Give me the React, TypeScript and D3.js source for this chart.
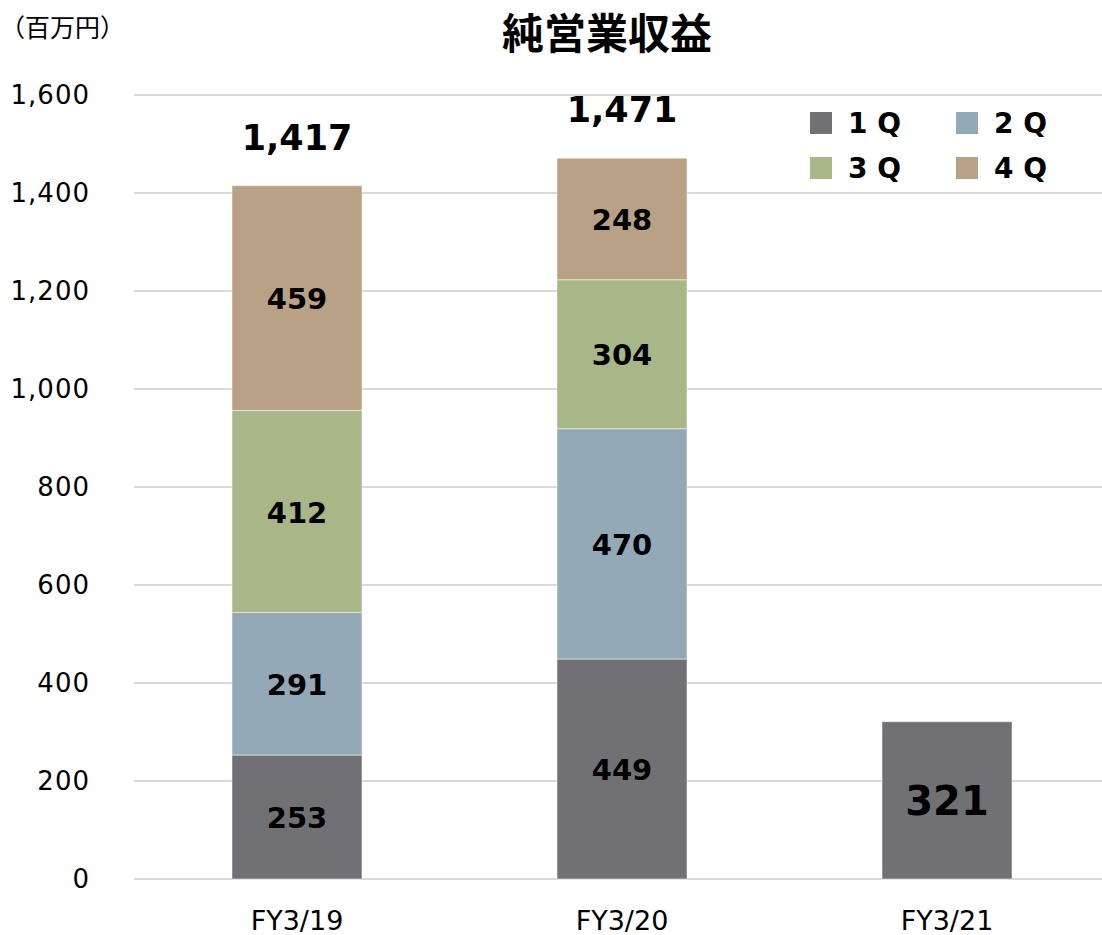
import React from "react";
import * as d3 from "d3";

// values (百万円)
const categories = ["FY3/19", "FY3/20", "FY3/21"];
const quarters = ["1Q", "2Q", "3Q", "4Q"];
const legendLabels = ["1 Q", "2 Q", "3 Q", "4 Q"];
const q1 = [253, 449, 321];
const q2 = [291, 470, 0];
const q3 = [412, 304, 0];
const q4 = [459, 248, 0];
const totals = [1417, 1471, null];
const yTicks = [0, 200, 400, 600, 800, 1000, 1200, 1400, 1600];
const colors = ["#717075", "#93a9b8", "#a7b788", "#b9a186"];

const W = 1102;
const H = 935;
const font = "'DejaVu Sans', Verdana, sans-serif";
const jpFont = "'Noto Sans CJK JP', sans-serif";

export default function App() {
  const x = d3.scaleBand().domain(categories).range([134.5, 1109.5]).paddingInner(0.6).paddingOuter(0.3);
  const y = d3.scaleLinear().domain([0, 1600]).range([879, 95]);

  const rows = categories.map((c, i) => ({ cat: c, "1Q": q1[i], "2Q": q2[i], "3Q": q3[i], "4Q": q4[i] }));
  const series = d3.stack<any>().keys(quarters)(rows);
  const fmt = d3.format(",");

  return (
    <svg width={W} height={H} style={{ position: "absolute", left: 0, top: 0, background: "#fff" }}>
      {/* grid */}
      {yTicks.map((t) => (
        <g key={t}>
          <line x1={134} x2={1102} y1={y(t)} y2={y(t)} stroke="#d9d9d9" strokeWidth={2} />
          <text x={90} y={y(t) + 9} textAnchor="end" fontFamily={font} fontSize={26} letterSpacing={1} fill="#000">
            {fmt(t)}
          </text>
        </g>
      ))}

      {/* bars */}
      {series.map((s, si) => (
        <g key={s.key} fill={colors[si]}>
          {s.map((d, i) =>
            d[1] - d[0] > 0 ? (
              <rect key={i} x={x(categories[i])} width={x.bandwidth()} y={y(d[1])} height={y(d[0]) - y(d[1])}
                stroke="#ffffff" strokeOpacity={0.5} strokeWidth={1} />
            ) : null
          )}
        </g>
      ))}

      {/* segment labels */}
      {series.map((s) =>
        s.map((d, i) => {
          const v = d[1] - d[0];
          if (v <= 0) return null;
          const big = i === 2;
          return (
            <text key={s.key + i} x={(x(categories[i]) as number) + x.bandwidth() / 2} y={y((d[0] + d[1]) / 2) + (big ? 15 : 11)}
              textAnchor="middle" fontFamily={font} fontWeight="bold" fontSize={big ? 40 : 29} fill="#000">
              {v}
            </text>
          );
        })
      )}

      {/* totals */}
      {totals.map((t, i) =>
        t == null ? null : (
          <text key={i} x={(x(categories[i]) as number) + x.bandwidth() / 2} y={y(series[3][i][1]) - 36}
            textAnchor="middle" fontFamily={font} fontWeight="bold" fontSize={35} fill="#000">
            {fmt(t)}
          </text>
        )
      )}

      {/* x labels */}
      {categories.map((c) => (
        <text key={c} x={(x(c) as number) + x.bandwidth() / 2} y={930} textAnchor="middle" fontFamily={font} fontSize={27} fill="#000">
          {c}
        </text>
      ))}

      {/* legend */}
      {legendLabels.map((l, i) => {
        const lx = 810 + (i % 2) * 146;
        const ly = 112 + Math.floor(i / 2) * 45;
        return (
          <g key={l}>
            <rect x={lx} y={ly} width={22} height={22} fill={colors[i]} />
            <text x={lx + 38} y={ly + 21} fontFamily={font} fontWeight="bold" fontSize={28} fill="#000">
              {l}
            </text>
          </g>
        );
      })}

      {/* title and unit */}
      <text x={607} y={49} textAnchor="middle" fontFamily={jpFont} fontWeight="bold" fontSize={42} fill="#000">
        純営業収益
      </text>
      <text x={0} y={37} fontFamily={jpFont} fontSize={25} fill="#000">
        （百万円）
      </text>
    </svg>
  );
}
